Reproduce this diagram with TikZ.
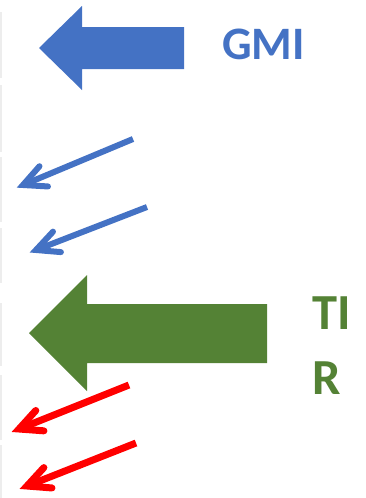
\documentclass[tikz,border=0pt]{standalone}
\usepackage{fontspec}
\setmainfont{Carlito}
\usetikzlibrary{calc}
\definecolor{gmiblue}{HTML}{4472C4}
\definecolor{tirgreen}{HTML}{548235}
\definecolor{edgegray}{HTML}{EDEDED}
\tikzset{
  bigarrow/.style={draw=none},
  thinarrow/.style={line width=#1, line cap=round, line join=miter},
  lbl/.style={font=\bfseries, inner sep=0pt, anchor=base west},
  edgeline/.style={edgegray, line width=2pt}
}
\newcommand{\slimarrow}[4]{%
  % #1 start, #2 tip, #3 colour, #4 width
  \draw[thinarrow=#4, #3, line cap=butt] #1 -- #2;
  \draw[thinarrow=#4, #3] ($#2!25pt!26:#1$) -- #2 -- ($#2!25pt!-26:#1$);
}
\begin{document}
\begin{tikzpicture}[x=1pt,y=-1pt]
\useasboundingbox (0,0) rectangle (366,498);
% faint left edge marks
\foreach \a/\b in {12/78,85/152,157/222,228/283,303/366,375/440,445/498}
  \draw[edgeline] (1,\a) -- (1,\b);
% big blue arrow
\fill[gmiblue, bigarrow] (39,48) -- (82,6) -- (82,27) -- (184,27) -- (184,69) -- (82,69) -- (82,90) -- cycle;
\node[lbl, text=gmiblue, font=\bfseries\fontsize{46.5}{56}\selectfont] (gmi) at (222,59) {GMI};
% small blue arrows
\slimarrow{(133,139)}{(23,185)}{gmiblue}{6pt}
\slimarrow{(147,207)}{(36,250)}{gmiblue}{6pt}
% big green arrow
\fill[tirgreen, bigarrow] (29,333) -- (87,275) -- (87,304) -- (267,304) -- (267,363) -- (87,363) -- (87,391) -- cycle;
\node[lbl, text=tirgreen, font=\bfseries\fontsize{50.5}{65}\selectfont, align=left] (tir) at (312,394) {TI\\R};
% red arrows
\slimarrow{(129,385)}{(19,429)}{red}{7pt}
\slimarrow{(136,443)}{(27,486)}{red}{7pt}
\end{tikzpicture}
\end{document}
